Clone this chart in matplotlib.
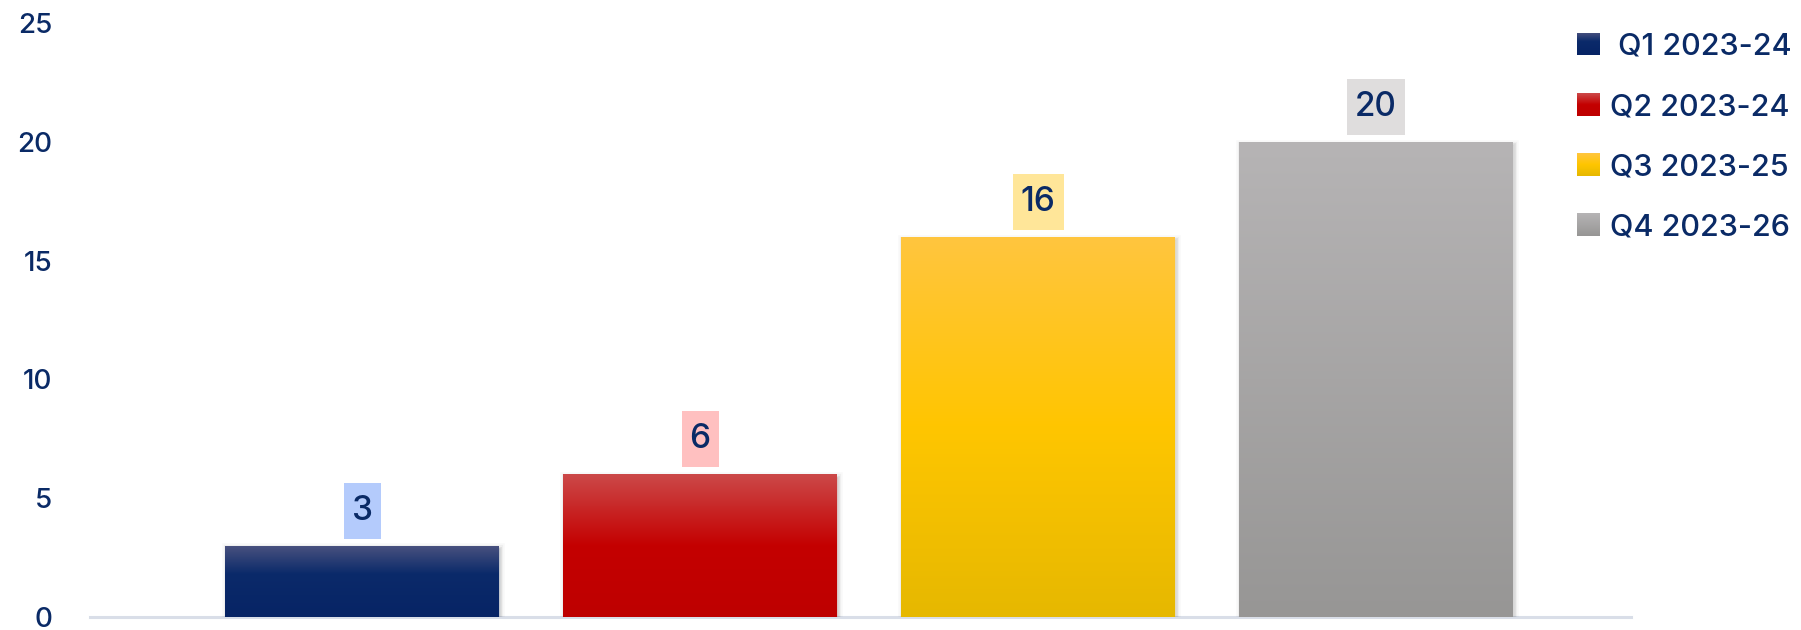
"""Quarterly bar chart with gradient bars and boxed value labels."""

import matplotlib

matplotlib.use("Agg")

import matplotlib.pyplot as plt
import matplotlib.patheffects as pe
import numpy as np
from matplotlib.colors import LinearSegmentedColormap
from matplotlib.patches import Rectangle
from matplotlib.transforms import IdentityTransform

quarters = [" Q1 2023-24", "Q2 2023-24", "Q3 2023-25", "Q4 2023-26"]
values = [3, 6, 16, 20]
y_ticks = [0, 5, 10, 15, 20, 25]

# gradient stops per bar (bottom -> top)
gradients = [
    [(0.0, "#072465"), (0.6, "#0b2a6a"), (1.0, "#4a527f")],
    [(0.0, "#be0000"), (0.5, "#c40000"), (1.0, "#cc4949")],
    [(0.0, "#e6b800"), (0.5, "#ffc600"), (1.0, "#ffc53f")],
    [(0.0, "#979695"), (1.0, "#b6b4b5")],
]
label_bg = ["#b4cbfc", "#ffc0c0", "#ffe699", "#dfdddd"]

TEXT = "#0a2a66"
FONT = "Inter"

W, H, DPI = 1801, 630, 100
fig = plt.figure(figsize=(W / DPI, H / DPI), dpi=DPI)
fig.patch.set_facecolor("white")
ax = fig.add_axes([90 / W, 1 - 617 / H, (1631 - 90) / W, (617 - 23) / H])

x = np.arange(len(values))
bars = ax.bar(x, values, width=0.81, color=[g[1][1] for g in gradients], zorder=2)
shadow = [
    pe.Stroke(offset=(1, -2), linewidth=7, foreground="#000000", alpha=0.025),
    pe.Stroke(offset=(1, -2), linewidth=4.5, foreground="#000000", alpha=0.04),
    pe.Stroke(offset=(0.5, -1.5), linewidth=2, foreground="#000000", alpha=0.07),
    pe.Normal(),
]
for bar, stops in zip(bars, gradients):
    bar.set_linewidth(0)
    bar.set_path_effects(shadow)
    cmap = LinearSegmentedColormap.from_list("g", stops)
    grad = np.linspace(0, 1, 256).reshape(-1, 1)
    x0, w, h = bar.get_x(), bar.get_width(), bar.get_height()
    im = ax.imshow(grad, cmap=cmap, origin="lower", aspect="auto",
                   extent=[x0, x0 + w, 0, h], zorder=3)
    im.set_clip_path(bar)

ax.set_xlim(-0.805, 3.754)
ax.set_ylim(0, 25)
ax.set_yticks(y_ticks)
ax.set_xticks([])
ax.tick_params(axis="y", length=0, pad=27, labelsize=20, labelcolor=TEXT)
for lab in ax.get_yticklabels():
    lab.set_family(FONT)
    lab.set_fontweight("medium")
for side in ["top", "right", "left"]:
    ax.spines[side].set_visible(False)
ax.spines["bottom"].set_color("#d9dee8")
ax.spines["bottom"].set_linewidth(2.2)
ax.spines["bottom"].set_zorder(1)

# value labels: text 35 px above bar top, tall box drawn in pixel space
labels = []
for xi, v in zip(x, values):
    labels.append(ax.annotate(str(v), (xi, v), xytext=(0, 35 * 72 / DPI),
                              textcoords="offset points", ha="center", va="center",
                              fontsize=24, color=TEXT, family=FONT,
                              fontweight="medium", zorder=5))
renderer = fig.canvas.get_renderer()
for xi, v, bg, t in zip(x, values, label_bg, labels):
    ext = t.get_window_extent(renderer)
    bx, by = ax.transData.transform((xi, v))
    bw = ext.width + 16
    ax.add_patch(Rectangle((bx - bw / 2, by + 7), bw, 56, transform=IdentityTransform(),
                           facecolor=bg, edgecolor="none", zorder=4, clip_on=False))

# legend drawn by hand: gradient swatch + label
for i, (name, stops) in enumerate(zip(quarters, gradients)):
    yc = 44 + i * 60.3
    sw = fig.add_axes([1577 / W, 1 - (yc + 11.5) / H, 23 / W, 23 / H])
    sw.imshow(np.linspace(0, 1, 64).reshape(-1, 1),
              cmap=LinearSegmentedColormap.from_list("g", stops),
              origin="lower", aspect="auto")
    sw.axis("off")
    fig.text(1610 / W, 1 - yc / H, name, ha="left", va="center_baseline",
             fontsize=22, color=TEXT, family=FONT, fontweight="medium")

fig.savefig("out.png", dpi=DPI, facecolor="white")
